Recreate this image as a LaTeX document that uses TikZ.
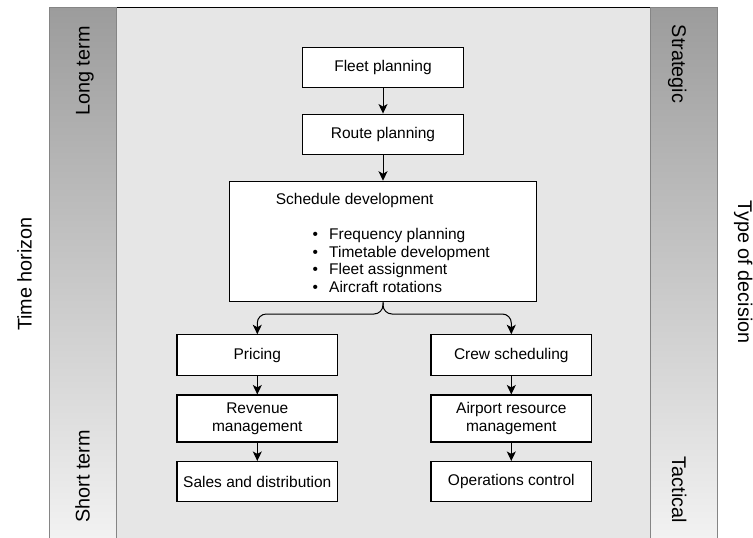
\documentclass[tikz,border=0pt]{standalone}
\usepackage{fontspec}
\setmainfont{Liberation Sans}
\usetikzlibrary{arrows.meta}
\definecolor{areagray}{HTML}{E6E6E6}
\definecolor{bartop}{HTML}{9C9C9C}
\definecolor{barbot}{HTML}{F3F3F3}
\definecolor{barline}{HTML}{858585}
\newcommand\boxfont{\fontsize{15.5}{18.3}\selectfont}
\newcommand\sidefont{\fontsize{19.8}{23}\selectfont}
\newcommand\bul{\makebox[16.5pt][l]{•}}
\tikzset{
  box/.style={draw=black, fill=white, line width=1.1pt, minimum width=160.6pt,
    minimum height=40.4pt, inner sep=0pt, align=center, font=\boxfont},
  plain/.style={inner sep=0pt, font=\boxfont, anchor=base west},
  conn/.style={line width=1pt, -{Stealth[length=9.5pt,width=9pt,inset=2.5pt]}},
  sidelabel/.style={font=\sidefont, inner sep=0pt, anchor=base},
  bar/.style={top color=bartop, bottom color=barbot, draw=barline, line width=1pt}
}
\begin{document}
\begin{tikzpicture}[x=1pt,y=-1pt]
\useasboundingbox (0,0) rectangle (753,538);
\clip (0,0) rectangle (753,538);
% background area
\fill[areagray] (116,7.3) rectangle (650.7,545);
\draw[line width=1pt] (116,7.3) -- (650.7,7.3);
\shade[bar] (49,7.3) rectangle (116,545);
\shade[bar] (650.7,7.3) rectangle (717.7,545);
% side labels
\node[sidelabel, rotate=90] (longterm) at (89.5,71) {Long term};
\node[sidelabel, rotate=90] (shortterm) at (89.5,476.5) {Short term};
\node[sidelabel, rotate=-90] (strategic) at (672,64) {Strategic};
\node[sidelabel, rotate=-90] (tactical) at (672,490) {Tactical};
\node[sidelabel, rotate=90] (timeh) at (31.5,274) {Time horizon};
\node[sidelabel, rotate=-90] (typed) at (738,272) {Type of decision};
% boxes
\node[box] (fleet) at (383,67.5) {Fleet planning};
\node[box] (route) at (383,134.3) {Route planning};
\node[box, minimum width=307.4pt, minimum height=120.4pt] (sched) at (383,241.5) {};
\node[plain] (schedtitle) at (275.7,204) {Schedule development};
\node[plain] (li1) at (312.5,239.5) {\bul Frequency planning};
\node[plain] (li2) at (312.5,257) {\bul Timetable development};
\node[plain] (li3) at (312.5,274.5) {\bul Fleet assignment};
\node[plain] (li4) at (312.5,292) {\bul Aircraft rotations};
\node[box] (pricing) at (257.3,355) {Pricing};
\node[box, minimum height=47pt] (revenue) at (257.3,418.5) {Revenue\\management};
\node[box] (sales) at (257.3,481.7) {Sales and distribution};
\node[box] (crew) at (511.3,355) {Crew scheduling};
\node[box, minimum height=47pt] (airport) at (511.3,418.5) {Airport resource\\management};
\node[box] (ops) at (511.3,481.7) {Operations control};
% connectors
\draw[conn] (fleet.south) -- (route.north);
\draw[conn] (route.south) -- (sched.north);
\coordinate (brace) at (383,314);
\draw[conn, rounded corners=9pt] (sched.south) -- (brace) -| (pricing.north);
\draw[conn, rounded corners=9pt] (sched.south) -- (brace) -| (crew.north);
\draw[conn] (pricing.south) -- (revenue.north);
\draw[conn] (revenue.south) -- (sales.north);
\draw[conn] (crew.south) -- (airport.north);
\draw[conn] (airport.south) -- (ops.north);
\end{tikzpicture}
\end{document}
